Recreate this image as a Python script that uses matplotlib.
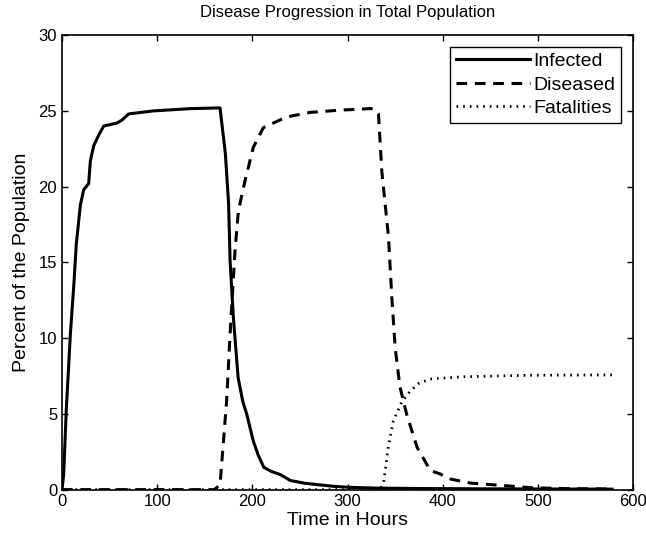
import matplotlib
matplotlib.use("Agg")
import matplotlib.pyplot as plt

plt.rcParams['font.family'] = ['Liberation Sans', 'DejaVu Sans']

# Infected
t_inf = [0, 1.75, 4.5, 8.8, 12.3, 15, 19.3, 22.8, 28, 29.8, 33.3, 38.5, 43.8, 57.8, 63, 70,
         96, 135, 166, 171.6, 175, 176.6, 180, 185, 190, 194, 201, 206, 212, 220, 229,
         240, 255, 268, 285, 302, 330, 380, 450, 520, 578]
v_inf = [0, 1, 5.3, 10.3, 13.4, 16.2, 18.8, 19.8, 20.2, 21.7, 22.7, 23.4, 24.0, 24.2, 24.4, 24.8,
         25.0, 25.15, 25.2, 22.2, 18.9, 15.1, 11.4, 7.4, 5.8, 5.0, 3.2, 2.3, 1.47, 1.2, 1.0,
         0.6, 0.42, 0.33, 0.22, 0.15, 0.1, 0.07, 0.05, 0.04, 0.03]

# Diseased
t_dis = [0, 160, 166, 173, 176.6, 181.8, 185.3, 192.3, 201, 211.6, 236, 260.6, 292, 327, 332.5,
         336, 343, 346.5, 350, 355, 362, 373, 387, 397, 408, 429, 457, 492, 530, 578]
v_dis = [0, 0, 0.3, 5.9, 10.3, 15.8, 18.4, 20.4, 22.6, 23.9, 24.6, 24.9, 25.05, 25.16, 24.8,
         21.0, 16.7, 12.7, 9.4, 6.8, 5.0, 2.8, 1.26, 1.04, 0.7, 0.43, 0.3, 0.13, 0.06, 0.04]

# Fatalities
t_fat = [0, 334, 338, 343, 348, 357, 366, 374.5, 387, 422, 492, 578]
v_fat = [0, 0, 0.5, 2.9, 4.5, 5.8, 6.5, 7.0, 7.3, 7.45, 7.55, 7.57]

labels = ['Infected', 'Diseased', 'Fatalities']
xticks = [0, 100, 200, 300, 400, 500, 600]
yticks = [0, 5, 10, 15, 20, 25, 30]

fig = plt.figure(figsize=(6.46, 5.41), dpi=100)
ax = fig.add_axes([0.096, 0.095, 0.884, 0.84])

ax.plot(t_inf, v_inf, color='black', lw=2.2, ls='-', label=labels[0])
ax.plot(t_dis, v_dis, color='black', lw=2.2, ls=(0, (3.5, 2.5)), label=labels[1])
ax.plot(t_fat, v_fat, color='black', lw=2.0, ls=(0, (0.6, 1.8)), label=labels[2])

ax.set_xlim(0, 600)
ax.set_ylim(0, 30)
ax.set_xticks(xticks)
ax.set_yticks(yticks)
ax.tick_params(direction='in', top=True, right=True, labelsize=12, length=4, width=1)
for s in ax.spines.values():
    s.set_linewidth(1.2)

ax.set_title('Disease Progression in Total Population', fontsize=12, pad=13)
ax.set_xlabel('Time in Hours', fontsize=14, labelpad=2)
ax.set_ylabel('Percent of the Population', fontsize=14, labelpad=6)

leg = ax.legend(loc='upper right', fontsize=14, handlelength=3.8, handletextpad=0.2,
                borderpad=0.3, labelspacing=0.3, fancybox=False, framealpha=1,
                edgecolor='black', borderaxespad=0.6)
leg.get_frame().set_linewidth(1.0)

fig.savefig('out.png', dpi=100)
